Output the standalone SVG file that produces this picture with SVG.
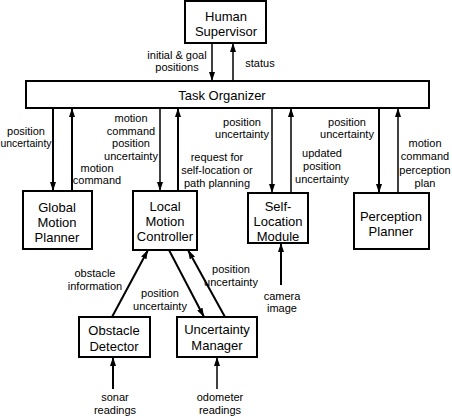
<svg xmlns="http://www.w3.org/2000/svg" width="452" height="416" viewBox="0 0 452 416">
<defs>
<marker id="ah" viewBox="0 0 9 6" refX="9" refY="3" markerWidth="9" markerHeight="6" markerUnits="userSpaceOnUse" orient="auto">
<path d="M0,0 L9,3 L0,6 z" fill="#000"/>
</marker>
<style>
rect{fill:#fff;stroke:#000;stroke-width:2}
.n{font-family:"Liberation Sans",Arial,sans-serif;font-size:13px;fill:#000;text-anchor:middle}
.l{font-family:"Liberation Sans",Arial,sans-serif;font-size:11px;fill:#000;text-anchor:middle}
line{stroke:#000;stroke-width:1.5;marker-end:url(#ah)}
.t{stroke-width:2}
</style>
</defs>
<rect x="0" y="0" width="452" height="416" style="fill:#fff;stroke:none"/>
<g id="connectors">
<line x1="212" y1="43" x2="212" y2="81"/>
<line x1="233" y1="81" x2="233" y2="43"/>
<line class="t" x1="53" y1="108" x2="53" y2="191"/>
<line class="t" x1="72" y1="191" x2="72" y2="108"/>
<line x1="160" y1="108" x2="160" y2="191"/>
<line class="t" x1="178" y1="191" x2="178" y2="108"/>
<line x1="272" y1="108" x2="272" y2="193"/>
<line x1="291" y1="193" x2="291" y2="108"/>
<line class="t" x1="379" y1="108" x2="379" y2="193"/>
<line x1="398" y1="193" x2="398" y2="108"/>
<line class="t" x1="281" y1="285" x2="281" y2="243"/>
<line class="t" x1="112" y1="317" x2="148" y2="250"/>
<line class="t" x1="169" y1="250" x2="204" y2="317"/>
<line class="t" x1="225" y1="317" x2="188" y2="250"/>
<line class="t" x1="113" y1="389" x2="113" y2="357"/>
<line x1="217" y1="389" x2="217" y2="357"/>
<text class="l" x="177" y="59">initial &amp; goal</text>
<text class="l" x="177" y="71">positions</text>
<text class="l" x="260" y="67">status</text>
<text class="l" x="26" y="135">position</text>
<text class="l" x="26" y="147" textLength="51" lengthAdjust="spacingAndGlyphs">uncertainty</text>
<text class="l" x="97" y="172">motion</text>
<text class="l" x="97" y="184">command</text>
<text class="l" x="131" y="122">motion</text>
<text class="l" x="131" y="135">command</text>
<text class="l" x="131" y="147">position</text>
<text class="l" x="131" y="160">uncertainty</text>
<text class="l" x="217" y="161">request for</text>
<text class="l" x="217" y="174">self-location or</text>
<text class="l" x="217" y="187">path planning</text>
<text class="l" x="242" y="126">position</text>
<text class="l" x="242" y="138">uncertainty</text>
<text class="l" x="322" y="157">updated</text>
<text class="l" x="322" y="170">position</text>
<text class="l" x="322" y="183">uncertainty</text>
<text class="l" x="347" y="126">position</text>
<text class="l" x="347" y="138">uncertainty</text>
<text class="l" x="425" y="147">motion</text>
<text class="l" x="425" y="160">command</text>
<text class="l" x="425" y="174">perception</text>
<text class="l" x="425" y="187">plan</text>
<text class="l" x="282" y="300">camera</text>
<text class="l" x="282" y="312">image</text>
<text class="l" x="95" y="277">obstacle</text>
<text class="l" x="95" y="290">information</text>
<text class="l" x="160" y="297">position</text>
<text class="l" x="160" y="310">uncertainty</text>
<text class="l" x="231" y="273">position</text>
<text class="l" x="231" y="286">uncertainty</text>
<text class="l" x="115" y="401">sonar</text>
<text class="l" x="115" y="414">readings</text>
<text class="l" x="220" y="401">odometer</text>
<text class="l" x="220" y="414">readings</text>
</g>
<g id="human-supervisor">
<rect x="185" y="1" width="81" height="42"/>
<text class="n" x="226" y="21">Human</text>
<text class="n" x="226" y="36">Supervisor</text>
</g>
<g id="task-organizer">
<rect x="26" y="81" width="403" height="27"/>
<text class="n" x="222" y="100">Task Organizer</text>
</g>
<g id="global-motion-planner">
<rect x="23" y="191" width="69" height="58"/>
<text class="n" x="57" y="212">Global</text>
<text class="n" x="57" y="227">Motion</text>
<text class="n" x="57" y="242">Planner</text>
</g>
<g id="local-motion-controller">
<rect x="133" y="191" width="64" height="59"/>
<text class="n" x="165" y="211">Local</text>
<text class="n" x="165" y="226">Motion</text>
<text class="n" x="165" y="241">Controller</text>
</g>
<g id="self-location-module">
<rect x="248" y="193" width="60" height="50"/>
<text class="n" x="278" y="211">Self-</text>
<text class="n" x="278" y="226">Location</text>
<text class="n" x="278" y="241">Module</text>
</g>
<g id="perception-planner">
<rect x="354" y="193" width="75" height="56"/>
<text class="n" x="391" y="221">Perception</text>
<text class="n" x="391" y="236">Planner</text>
</g>
<g id="obstacle-detector">
<rect x="79" y="317" width="71" height="40"/>
<text class="n" x="114" y="335">Obstacle</text>
<text class="n" x="114" y="351">Detector</text>
</g>
<g id="uncertainty-manager">
<rect x="177" y="317" width="80" height="40"/>
<text class="n" x="217" y="334">Uncertainty</text>
<text class="n" x="217" y="350">Manager</text>
</g>
</svg>
